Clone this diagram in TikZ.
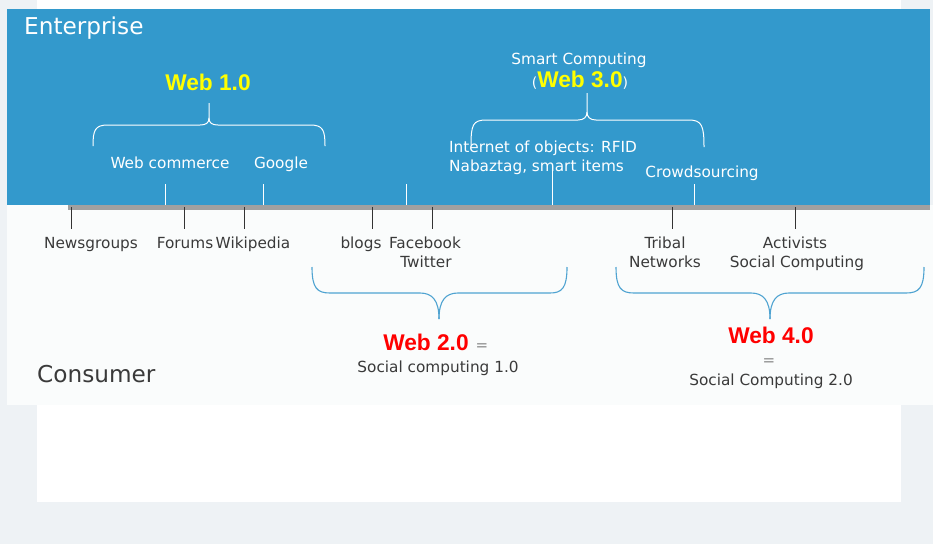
\documentclass[tikz,border=0pt]{standalone}
\usepackage{fontspec}
\setmainfont{DejaVu Sans}
\newfontfamily\webfont{Liberation Sans}

\definecolor{pagebg}{HTML}{EEF2F5}
\definecolor{panelbg}{HTML}{FAFCFC}
\definecolor{entblue}{HTML}{3399CC}
\definecolor{barcol}{HTML}{A0A0A0}
\definecolor{txtdark}{HTML}{3A3A3A}
\definecolor{tickdark}{HTML}{333333}
\definecolor{braceblue}{HTML}{4FA3D1}
\definecolor{webyellow}{HTML}{FFFF00}
\definecolor{webred}{HTML}{FF0000}
\definecolor{eqgrey}{HTML}{8A8A8A}

\begin{document}
\begin{tikzpicture}[x=1pt,y=-1pt,
  lo/.style={text=txtdark, inner sep=0pt, anchor=base, font=\fontsize{15.3}{18}\selectfont},
  hi/.style={text=white, inner sep=0pt, anchor=base, font=\fontsize{15.3}{18}\selectfont},
  zone/.style={inner sep=0pt, anchor=base west, font=\fontsize{23.2}{27}\selectfont},
  webtitle/.style={inner sep=0pt, anchor=base, font=\webfont\bfseries\fontsize{22.7}{26}\selectfont},
  eqsign/.style={text=eqgrey, inner sep=0pt, anchor=base, font=\fontsize{15}{18}\selectfont},
  tickdn/.style={draw=tickdark, line width=1pt},
  tickup/.style={draw=white, line width=1pt},
  bracew/.style={draw=white, line width=1pt},
  braceb/.style={draw=braceblue, line width=1.1pt}]

% canvas, page and the two zones
\fill[pagebg] (0,0) rectangle (933,544);
\fill[white] (37,0) rectangle (901,502);
\fill[panelbg] (7,205) rectangle (933,405);
\fill[entblue] (7,9) rectangle (930,205);
\useasboundingbox (0,0) rectangle (933,544);

% time line
\fill[barcol] (68,205) rectangle (930,210);

% zone labels
\node[zone, text=white] (enterprise) at (24,34) {Enterprise};
\node[zone, text=txtdark] (consumer) at (37,382) {Consumer};

% ---------- enterprise side ----------
\node[webtitle, text=webyellow] (web1) at (208,90) {Web 1.0};
\node[hi] (smart) at (579,64) {Smart Computing};
\node[inner sep=0pt, anchor=base] (web3) at (580,87)
  {{\fontsize{14}{17}\selectfont\color{white}(}{\webfont\bfseries\fontsize{22.7}{26}\selectfont\color{webyellow}Web 3.0}{\fontsize{14}{17}\selectfont\color{white})}};

\node[hi] (webcom) at (170,168) {Web commerce};
\node[hi] (google) at (281,168) {Google};
\node[hi, anchor=base west] (iot1) at (449,152) {Internet of objects: RFID};
\node[hi, anchor=base west] (iot2) at (449,171) {Nabaztag, smart items};
\node[hi] (crowd) at (702,177) {Crowdsourcing};

% Web 1.0 brace
\draw[bracew] (93,146) .. controls (93,130) and (95,125) .. (108,125) -- (200,125)
  .. controls (206,125) and (209,123) .. (209,118) -- (209,103);
\draw[bracew] (209,118) .. controls (209,123) and (212,125) .. (218,125) -- (310,125)
  .. controls (323,125) and (325,130) .. (325,146);

% Web 3.0 brace
\draw[bracew] (471,145) .. controls (471,125) and (473,120) .. (486,120) -- (578,120)
  .. controls (584,120) and (587,117) .. (587,112) -- (587,93);
\draw[bracew] (587,112) .. controls (587,117) and (590,120) .. (596,120) -- (689,120)
  .. controls (702,120) and (704,126) .. (704,147);

% ticks above the line
\coordinate (uWebcom) at (165,184);
\coordinate (uGoogle) at (263,184);
\coordinate (uMid)    at (406,184);
\coordinate (uIot)    at (552,170);
\coordinate (uCrowd)  at (694,184);
\foreach \c in {uWebcom,uGoogle,uMid,uIot,uCrowd}
  \draw[tickup] (\c) -- (\c |- 0,205);

% ---------- consumer side ----------
\node[lo] (news)   at (91,248)  {Newsgroups};
\node[lo] (forums) at (185,248) {Forums};
\node[lo] (wiki)   at (253,248) {Wikipedia};
\node[lo] (blogs)  at (361,248) {blogs};
\node[lo] (fb)     at (425,248) {Facebook};
\node[lo] (tw)     at (426,267) {Twitter};
\node[lo] (tribal) at (665,248) {Tribal};
\node[lo] (netw)   at (665,267) {Networks};
\node[lo] (activ)  at (795,248) {Activists};
\node[lo] (socc)   at (797,267) {Social Computing};

% ticks below the line
\coordinate (dNews)   at (71,229);
\coordinate (dForums) at (184,229);
\coordinate (dWiki)   at (244,229);
\coordinate (dBlogs)  at (372,229);
\coordinate (dFb)     at (432,229);
\coordinate (dTribal) at (672,229);
\coordinate (dActiv)  at (795,229);
\foreach \c in {dNews,dForums,dWiki,dBlogs,dFb,dTribal,dActiv}
  \draw[tickdn] (\c |- 0,207) -- (\c);

% Web 2.0 brace
\draw[braceb] (312,267) .. controls (312,288) and (317,293) .. (330,293) -- (420,293)
  .. controls (432,293) and (439,300) .. (439,319);
\draw[braceb] (439,319) .. controls (439,300) and (446,293) .. (458,293) -- (550,293)
  .. controls (562,293) and (567,288) .. (567,267);

% Web 4.0 brace
\draw[braceb] (616,267) .. controls (616,288) and (621,293) .. (634,293) -- (751,293)
  .. controls (763,293) and (770,300) .. (770,319);
\draw[braceb] (770,319) .. controls (770,300) and (777,293) .. (789,293) -- (906,293)
  .. controls (919,293) and (924,288) .. (924,267);

\node[webtitle, text=webred] (web2) at (426,350) {Web 2.0};
\node[eqsign] (eq2) at (482,350) {=};
\node[lo] (sc1) at (438,372) {Social computing 1.0};

\node[webtitle, text=webred] (web4) at (771,343) {Web 4.0};
\node[eqsign] (eq4) at (769,365) {=};
\node[lo] (sc2) at (771,385) {Social Computing 2.0};
\end{tikzpicture}
\end{document}
